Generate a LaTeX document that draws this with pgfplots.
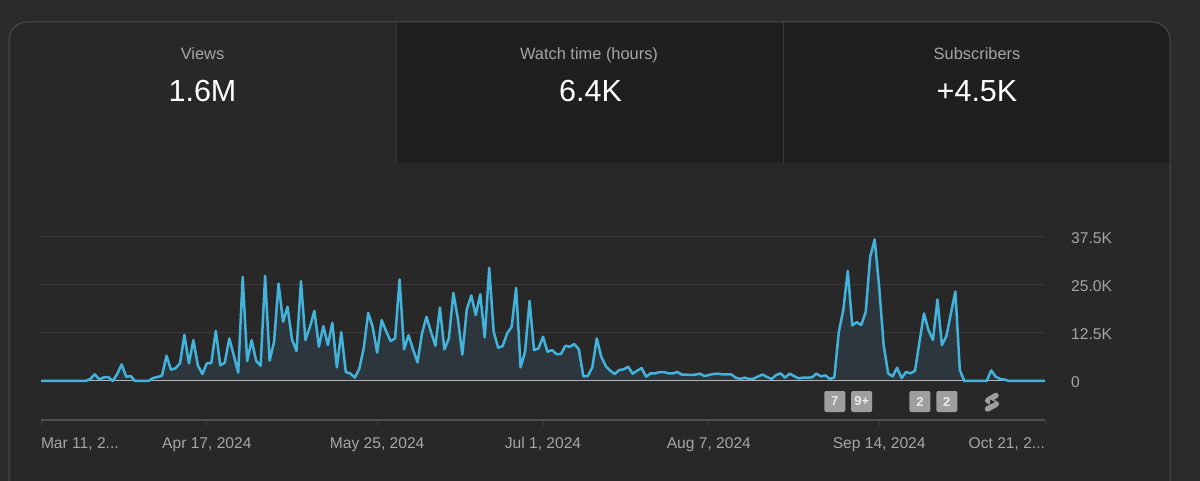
\documentclass[border=0pt]{standalone}
\usepackage{pgfplots}
\usepackage{pgfplotstable}
\usepackage{fontspec}
\setmainfont{Liberation Sans}
\pgfplotsset{compat=1.18}
\definecolor{outerbg}{HTML}{2B2B2B}
\definecolor{cardbg}{HTML}{282828}
\definecolor{tabbg}{HTML}{1F1F1F}
\definecolor{border}{HTML}{4C4C4C}
\definecolor{sep}{HTML}{363636}
\definecolor{gridc}{HTML}{3A3A3A}
\definecolor{axisc}{HTML}{4F4F4F}
\definecolor{labelc}{HTML}{A6A6A6}
\definecolor{linec}{HTML}{43B3DC}
\definecolor{fillc}{HTML}{2C363C}
\definecolor{zeroc}{HTML}{B4B4B4}
\definecolor{badge}{HTML}{9E9E9E}
\definecolor{badget}{HTML}{EAEAEA}
\pgfplotstableread{
d v
0 0
1 0
2 0
3 0
4 0
5 0
6 0
7 0
8 0
9 0
10 0
11 520
12 1730
13 430
14 950
15 1040
16 0
17 1820
18 4330
19 1130
20 1300
21 0
22 0
23 0
24 0
25 780
26 1040
27 1390
28 6580
29 2940
30 3290
31 4590
32 12040
33 4590
34 10650
35 4070
36 1820
37 4590
38 4680
39 13080
40 4070
41 4760
42 11080
43 6750
44 2170
45 27110
46 5200
47 10650
48 5280
49 3980
50 27370
51 5280
52 10220
53 25370
54 15410
55 19310
56 10830
57 7790
58 25980
59 10650
60 14120
61 18270
62 8920
63 14290
64 9350
65 15160
66 3550
67 12730
68 2340
69 1990
70 870
71 3120
72 8490
73 17750
74 14120
75 7360
76 15850
77 12990
78 10390
79 11080
80 26410
81 8230
82 11950
83 8230
84 4850
85 12380
86 16710
87 12820
88 9180
89 19140
90 8230
91 11080
92 22950
93 16280
94 6840
95 18620
96 22260
97 17150
98 22600
99 11340
100 29440
101 12820
102 8660
103 9090
104 12380
105 14120
106 24250
107 3550
108 7620
109 20870
110 8050
111 8490
112 11520
113 7620
114 8050
115 7010
116 7010
117 9180
118 8920
119 9610
120 8230
121 1210
122 1300
123 3550
124 11080
125 6320
126 3900
127 2680
128 1820
129 2860
130 3030
131 3720
132 1910
133 2680
134 3380
135 1130
136 1990
137 1990
138 2340
139 2340
140 1990
141 1990
142 2340
143 1650
144 1650
145 1560
146 1650
147 1910
148 1300
149 1560
150 1820
151 1910
152 1730
153 1730
154 1730
155 870
156 520
157 870
158 520
159 610
160 1210
161 1650
162 1040
163 520
164 1560
165 1990
166 870
167 1910
168 1300
169 690
170 870
171 870
172 950
173 1910
174 1210
175 1470
176 520
177 950
178 12820
179 18450
180 28660
181 14460
182 15330
183 14550
184 18010
185 32300
186 36890
187 24510
188 9350
189 1990
190 1210
191 3460
192 780
193 2340
194 1990
195 2680
196 10220
197 17580
198 13250
199 10650
200 21220
201 9350
202 11690
203 17580
204 23300
205 2860
206 0
207 0
208 0
209 0
210 0
211 0
212 2770
213 1130
214 520
215 350
216 0
217 0
218 0
219 0
220 0
221 0
222 0
223 0
224 0
}\viewsdata
\begin{document}
\begin{tikzpicture}[x=1pt,y=1pt]
\useasboundingbox (0,0) rectangle (1200,481);
\fill[outerbg] (0,0) rectangle (1200,481);
\begin{scope}[shift={(0,481)},y=-1pt,x=1pt]
  \begin{scope}
    \clip (0,0) rectangle (1200,481);
    \fill[cardbg,rounded corners=18pt] (9,22) -- (1170,22) -- (1170,520) -- (9,520) -- cycle;
    \begin{scope}
      \clip[rounded corners=18pt] (9,22) -- (1170,22) -- (1170,520) -- (9,520) -- cycle;
      \fill[tabbg] (396,22) rectangle (1170,163.5);
      \draw[sep,line width=1pt] (396,22) -- (396,163.5);
      \draw[sep,line width=1pt] (783,22) -- (783,163.5);
    \end{scope}
    \draw[border,line width=1pt,rounded corners=18pt] (9,22) -- (1170,22) -- (1170,520) -- (9,520) -- cycle;
  \end{scope}
  \node[text=labelc,font=\fontsize{16.4}{18}\selectfont,anchor=base] at (202.5,60) {Views};
  \node[text=labelc,font=\fontsize{16.4}{18}\selectfont,anchor=base] at (589,60) {Watch time (hours)};
  \node[text=labelc,font=\fontsize{16.4}{18}\selectfont,anchor=base] at (977,60) {Subscribers};
  \node[text=white,font=\fontsize{30.5}{32}\selectfont,anchor=base] at (202.5,102) {1.6M};
  \node[text=white,font=\fontsize{30.5}{32}\selectfont,anchor=base] at (590.5,102) {6.4K};
  \node[text=white,font=\fontsize{30.5}{32}\selectfont,anchor=base] at (977,102) {+4.5K};
  \draw[badge,line width=5.5pt,line cap=round,line join=round] (996,395.5) -- (987.5,400.5) -- (996.5,404) -- (987.5,409);
  \fill[cardbg] (990,399.5) -- (995,402) -- (990,404.5) -- cycle;
\end{scope}
\begin{axis}[
  at={(41pt,61pt)}, anchor=south west,
  scale only axis, width=1004pt, height=183pt,
  xmin=0, xmax=224, ymin=-10156, ymax=37500,
  clip=false,
  scaled y ticks=false,
  axis x line*=bottom, axis y line*=right,
  x axis line style={draw=axisc,line width=2pt,-},
  y axis line style={draw=none,-},
  xtick={0,37,75,112,149,187,224},
  xticklabels={\makebox[0pt][l]{Mar 11, 2...},{Apr 17, 2024},{May 25, 2024},{Jul 1, 2024},{Aug 7, 2024},{Sep 14, 2024},\makebox[0pt][r]{Oct 21, 2...}},
  ytick={0,12500,25000,37500},
  yticklabels={0,12.5K,25.0K,37.5K},
  ymajorgrids,
  grid style={draw=gridc,line width=1pt},
  xtick style={draw=gridc,line width=1pt},
  ytick style={draw=none},
  major tick length=6pt,
  tick align=outside,
  ticklabel style={text=labelc,font=\fontsize{15.6}{17}\selectfont},
  xticklabel style={anchor=north,yshift=-11pt,inner sep=0pt,text height=11pt,text depth=3pt},
  yticklabel style={anchor=west,inner sep=0pt,xshift=20pt,yshift=-0.7pt},
]
\addplot[draw=none,fill=fillc] table[x=d,y=v] {\viewsdata} \closedcycle;
\addplot[draw=zeroc,line width=1pt] coordinates {(0,0) (224,0)};
\addplot[draw=linec,line width=2.5pt,line join=round] table[x=d,y=v] {\viewsdata};
\foreach \xx/\tt in {177.1/7,183.1/9+,196.1/2,202.1/2}{
  \edef\temp{\noexpand\node[fill=badge,text=badget,rounded corners=2pt,minimum width=21pt,minimum height=21pt,inner sep=0pt,font=\noexpand\bfseries\noexpand\fontsize{13}{15}\noexpand\selectfont] at (axis cs:\xx,-5340) {\tt};}
  \temp
}
\end{axis}
\end{tikzpicture}
\end{document}
